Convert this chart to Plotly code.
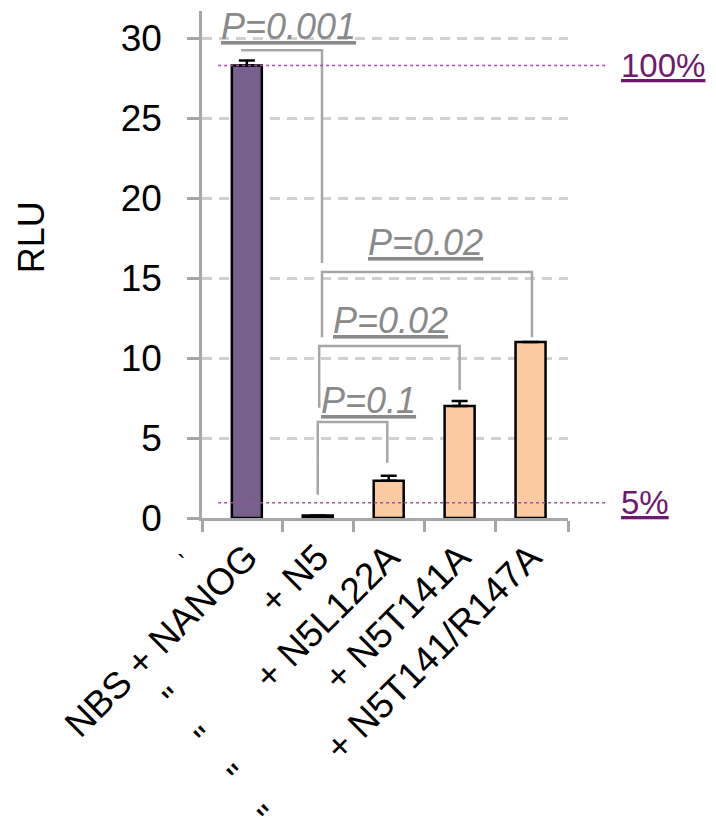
import plotly.graph_objects as go

# ---------------- data ----------------
categories = ["NBS + NANOG", "+ N5", "+ N5L122A", "+ N5T141A", "+ N5T141/R147A"]
quote_gap = [0, 12, 7, 12, 8]          # number of spaces between the ditto mark and the label
rlu_values = [28.3, 0.15, 2.33, 7.0, 11.0]
rlu_err_plus = [0.31, 0.0, 0.31, 0.31, 0.0]
bar_colors = ["#77608C", "#FACBA1", "#FACBA1", "#FACBA1", "#FACBA1"]

y_tick_vals = [0, 5, 10, 15, 20, 25, 30]

# significance brackets (data units)
p_labels = ["P=0.001", "P=0.02", "P=0.02", "P=0.1"]
p_label_x = [0.59, 2.52, 2.03, 1.71]
p_label_y = [30.75, 17.23, 12.34, 7.36]
bracket_left = [-0.08, 1.06, 1.02, 1.00]
bracket_right = [1.06, 4.02, 3.00, 1.98]
bracket_top = [29.25, 15.375, 10.75, 6.0]
bracket_left_end = [None, 11.3, 6.9, 1.45]
bracket_right_end = [15.95, 11.3, 8.0, 3.45]

# reference (dotted) lines
ref_values = [28.3, 0.96]
ref_labels = ["100%", "5%"]

# ---------------- figure ----------------
FONT = "Liberation Sans, Arial, sans-serif"
NB = "\u00a0"
tick_text = []
for name, gap in zip(categories, quote_gap):
    name = name.replace(" ", NB)
    tick_text.append(name if gap == 0 else '"' + NB * gap + name)

x_idx = list(range(len(categories)))
x_range = [-0.632, 4.528]
boundaries = [x_range[0]] + [i + 0.5 for i in x_idx[:-1]] + [x_range[1]]

fig = go.Figure()
fig.add_trace(go.Bar(
    x=x_idx, y=rlu_values, width=0.423,
    marker=dict(color=bar_colors, line=dict(color="black", width=2.5)),
    error_y=dict(type="data", symmetric=False, array=rlu_err_plus,
                 arrayminus=[0] * len(rlu_values), color="black",
                 thickness=2.5, width=8),
    showlegend=False, hoverinfo="skip",
))

BRACKET_COLOR = "#A6A6A6"
for xl, xr, yt, yl, yr in zip(bracket_left, bracket_right, bracket_top,
                              bracket_left_end, bracket_right_end):
    xs, ys = [], []
    if yl is not None:
        xs.append(xl); ys.append(yl)
    xs += [xl, xr, xr]
    ys += [yt, yt, yr]
    fig.add_trace(go.Scatter(x=xs, y=ys, mode="lines",
                             line=dict(color=BRACKET_COLOR, width=2.5),
                             showlegend=False, hoverinfo="skip", cliponaxis=False))

for txt, px, py in zip(p_labels, p_label_x, p_label_y):
    fig.add_annotation(x=px, y=py, xref="x", yref="y", text="<u>" + txt + "</u>",
                       showarrow=False, xanchor="center", yanchor="middle",
                       font=dict(family=FONT, size=36, color="#8A8A8A", style="italic"))

REF_COLOR = "#A64DA6"
LABEL_COLOR = "#701870"
for val, lab in zip(ref_values, ref_labels):
    fig.add_shape(type="line", xref="paper", yref="y", x0=0.044, x1=1.109,
                  y0=val, y1=val, line=dict(color=REF_COLOR, width=1.5, dash="3px,3px"))
    fig.add_annotation(x=1.138, y=val, xref="paper", yref="y",
                       text="<u>" + lab + "</u>", showarrow=False,
                       xanchor="left", yanchor="middle",
                       font=dict(family=FONT, size=33, color=LABEL_COLOR))

# y-axis title
fig.add_annotation(x=-0.467, y=0.554, xref="paper", yref="paper", text="RLU",
                   textangle=-90, showarrow=False, xanchor="center", yanchor="middle",
                   font=dict(family=FONT, size=36, color="black"))
# small stray mark near the first label
fig.add_annotation(x=-0.075, y=-0.125, xref="paper", yref="paper", text="`",
                   showarrow=False, font=dict(family=FONT, size=26, color="black"))

AXIS_COLOR = "#A6A6A6"
# the page body adds an 8px offset, so the margins are shifted to compensate
fig.update_layout(
    width=716, height=822, autosize=False,
    margin=dict(l=194, r=156, t=3, b=312),
    plot_bgcolor="white", paper_bgcolor="white",
    font=dict(family=FONT, size=36, color="black"),
    xaxis=dict(
        range=x_range, tickmode="array", tickvals=x_idx, ticktext=tick_text,
        tickangle=-45, ticks="", showgrid=False, zeroline=False, automargin=False,
        showline=True, linecolor=AXIS_COLOR, linewidth=2.5,
        tickfont=dict(family=FONT, size=37, color="black"),
        minor=dict(tickmode="array", tickvals=boundaries, ticks="outside",
                   ticklen=11, tickwidth=2.5, tickcolor=AXIS_COLOR, showgrid=False),
    ),
    yaxis=dict(
        range=[0, 31.7], tickmode="array", tickvals=y_tick_vals, automargin=False,
        ticks="outside", ticklen=12, tickwidth=2.5, tickcolor=AXIS_COLOR,
        showline=True, linecolor=AXIS_COLOR, linewidth=2.5, zeroline=False,
        showgrid=True, gridcolor="#D0D0D0", gridwidth=2.5, griddash="10px,7px",
        ticklabelstandoff=18,
        tickfont=dict(family=FONT, size=37, color="black"),
    ),
)

fig.write_html("out.html")
